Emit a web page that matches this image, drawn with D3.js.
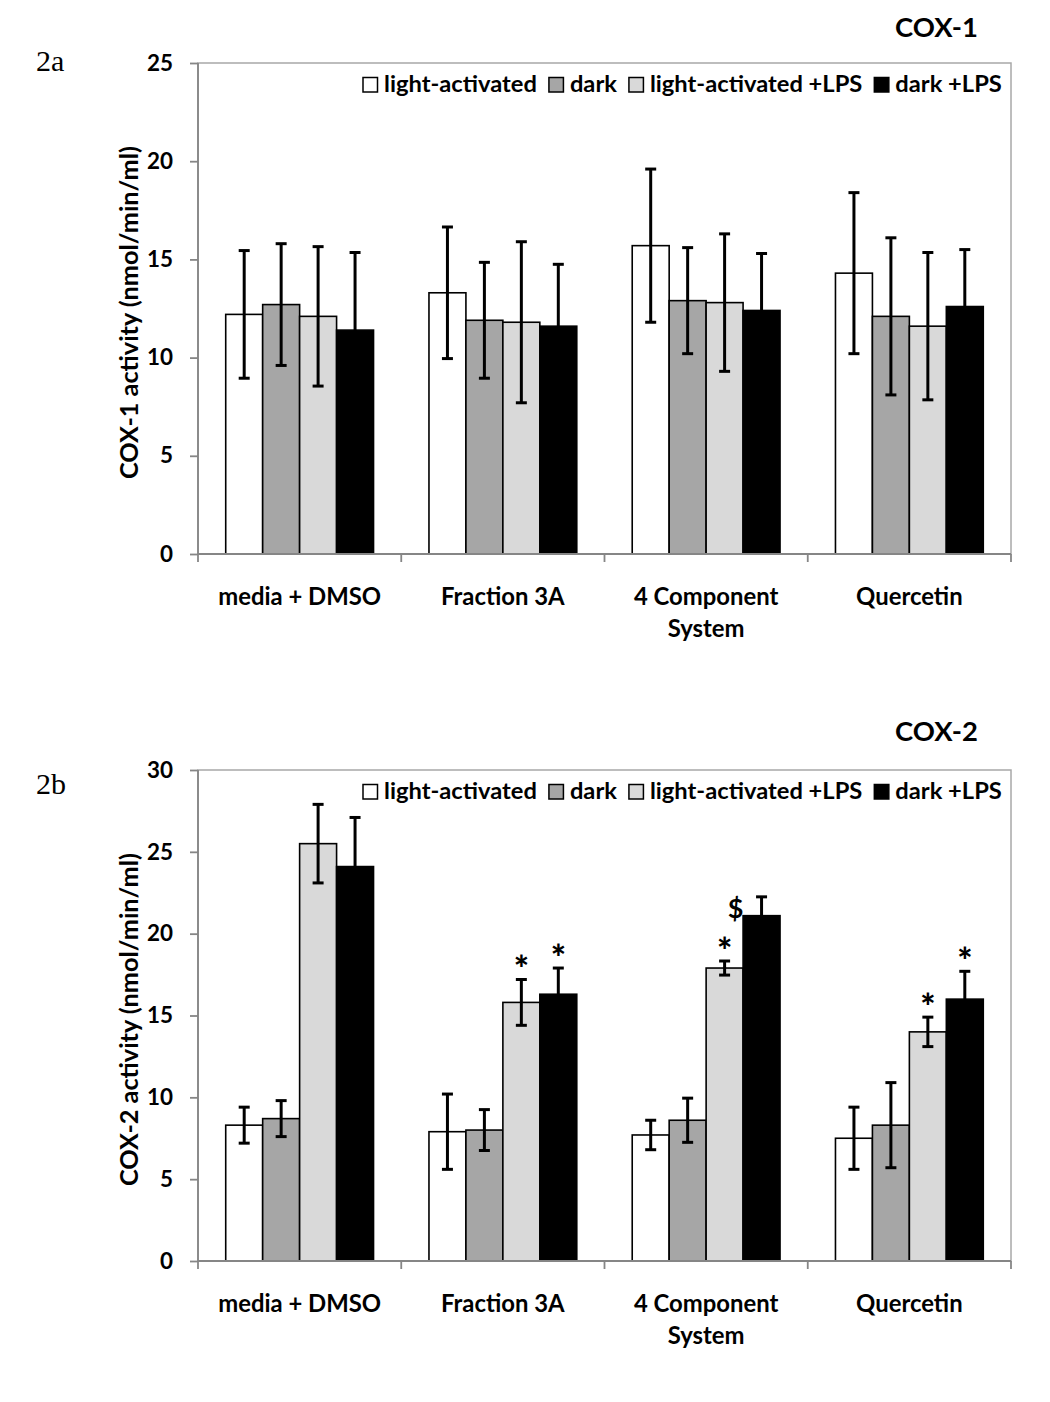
<!DOCTYPE html>
<html>
<head>
<meta charset="utf-8">
<script src="https://cdn.jsdelivr.net/npm/d3@7"></script>
<style>
  html, body { margin: 0; padding: 0; background: #fff; }
  svg { display: block; }
</style>
</head>
<body>
<svg id="chart" width="1050" height="1402"></svg>
<script>
// ---------------- DATA ----------------
const categories = ["media + DMSO", "Fraction 3A", "4 Component System", "Quercetin"];
const categoryLines = [["media + DMSO"], ["Fraction 3A"], ["4 Component", "System"], ["Quercetin"]];
const series = ["light-activated", "dark", "light-activated +LPS", "dark +LPS"];

// COX-1 activity (nmol/min/ml): rows = categories, columns = series
const cox1Values = [
  [12.2, 12.7, 12.1, 11.4],
  [13.3, 11.9, 11.8, 11.6],
  [15.7, 12.9, 12.8, 12.4],
  [14.3, 12.1, 11.6, 12.6]
];
const cox1Errors = [
  [3.25, 3.1, 3.55, 3.95],
  [3.35, 2.95, 4.1, 3.15],
  [3.9, 2.7, 3.5, 2.9],
  [4.1, 4.0, 3.75, 2.9]
];
const cox1Ticks = [0, 5, 10, 15, 20, 25];

// COX-2 activity (nmol/min/ml)
const cox2Values = [
  [8.3, 8.7, 25.5, 24.1],
  [7.9, 8.0, 15.8, 16.3],
  [7.7, 8.6, 17.9, 21.1],
  [7.5, 8.3, 14.0, 16.0]
];
const cox2Errors = [
  [1.1, 1.1, 2.4, 3.0],
  [2.3, 1.25, 1.4, 1.6],
  [0.9, 1.35, 0.43, 1.15],
  [1.9, 2.6, 0.9, 1.7]
];
const cox2Ticks = [0, 5, 10, 15, 20, 25, 30];
const cox2Marks = [
  { group: 1, series: 2, label: "*" },
  { group: 1, series: 3, label: "*" },
  { group: 2, series: 2, label: "*" },
  { group: 2, series: 3, label: "$" },
  { group: 3, series: 2, label: "*" },
  { group: 3, series: 3, label: "*" }
];

// ---------------- STYLE / LAYOUT ----------------
const colors = ["#ffffff", "#a6a6a6", "#d9d9d9", "#000000"];
const FONT = "Lato, 'Open Sans', 'Liberation Sans', sans-serif";
const plotLeft = 198, plotRight = 1011;

const svg = d3.select("#chart");

function fitSize(str, target, family, weight) {
  const t = svg.append("text").attr("font-family", family).attr("font-weight", weight)
    .attr("font-size", 100).text(str);
  const w = t.node().getComputedTextLength();
  t.remove();
  return 100 * target / w;
}
const legendFS = fitSize("light-activated", 153, FONT, 700);
const catFS = fitSize("media + DMSO", 163, FONT, 700);
const tickFS = fitSize("20", 26, FONT, 700);
const yTitleFS = fitSize("COX-1 activity (nmol/min/ml)", 333, FONT, 700);
const titleFS = fitSize("COX-1", 83, FONT, 700);

const panels = [
  { tag: "2a", tagY: 71, title: "COX-1", titleY: 37, yTitle: "COX-1 activity (nmol/min/ml)",
    values: cox1Values, errors: cox1Errors, ticks: cox1Ticks, marks: [], top: 63, bottom: 554 },
  { tag: "2b", tagY: 794, title: "COX-2", titleY: 741, yTitle: "COX-2 activity (nmol/min/ml)",
    values: cox2Values, errors: cox2Errors, ticks: cox2Ticks, marks: cox2Marks, top: 770, bottom: 1261 }
];

const x0 = d3.scaleBand().domain(categories).range([plotLeft, plotRight]).paddingInner(0).paddingOuter(0);
const x1 = d3.scaleBand().domain(series).range([0, x0.bandwidth()]).paddingInner(0).paddingOuter(0.75);

panels.forEach(p => {
  const g = svg.append("g");
  const y = d3.scaleLinear().domain([0, d3.max(p.ticks)]).range([p.bottom, p.top]);

  // plot area border
  g.append("rect").attr("x", plotLeft).attr("y", p.top)
    .attr("width", plotRight - plotLeft).attr("height", p.bottom - p.top)
    .attr("fill", "none").attr("stroke", "#a8a8a8").attr("stroke-width", 1.5);

  // bars
  categories.forEach((c, i) => {
    series.forEach((s, j) => {
      const v = p.values[i][j];
      g.append("rect")
        .attr("x", x0(c) + x1(s)).attr("y", y(v))
        .attr("width", x1.bandwidth()).attr("height", y(0) - y(v))
        .attr("fill", colors[j]).attr("stroke", "#000").attr("stroke-width", 1.6);
    });
  });

  // error bars
  categories.forEach((c, i) => {
    series.forEach((s, j) => {
      const v = p.values[i][j], e = p.errors[i][j];
      const cx = x0(c) + x1(s) + x1.bandwidth() / 2;
      const eg = g.append("g").attr("stroke", "#000").attr("stroke-width", 3);
      eg.append("line").attr("x1", cx).attr("x2", cx).attr("y1", y(v - e)).attr("y2", y(v + e));
      eg.append("line").attr("x1", cx - 5.5).attr("x2", cx + 5.5).attr("y1", y(v + e)).attr("y2", y(v + e));
      eg.append("line").attr("x1", cx - 5.5).attr("x2", cx + 5.5).attr("y1", y(v - e)).attr("y2", y(v - e));
    });
  });

  // significance marks
  p.marks.forEach(m => {
    const c = categories[m.group], s = series[m.series];
    const v = p.values[m.group][m.series], e = p.errors[m.group][m.series];
    const cx = x0(c) + x1(s) + x1.bandwidth() / 2;
    if (m.label === "*") {
      g.append("text").attr("x", cx).attr("y", y(v + e) + 3)
        .attr("text-anchor", "middle").attr("font-family", FONT).attr("font-weight", 900)
        .attr("font-size", 36).text(m.label);
    } else {
      g.append("text").attr("x", cx - 26).attr("y", y(v) + 2)
        .attr("text-anchor", "middle").attr("font-family", FONT).attr("font-weight", 700)
        .attr("font-size", 27).text(m.label);
    }
  });

  // axes lines
  g.append("line").attr("x1", plotLeft).attr("x2", plotLeft).attr("y1", p.top).attr("y2", p.bottom)
    .attr("stroke", "#868686").attr("stroke-width", 1.8);
  g.append("line").attr("x1", plotLeft).attr("x2", plotRight).attr("y1", p.bottom).attr("y2", p.bottom)
    .attr("stroke", "#868686").attr("stroke-width", 1.8);

  // y ticks
  const yAxis = g.append("g").attr("transform", `translate(${plotLeft},0)`)
    .call(d3.axisLeft(y).tickValues(p.ticks).tickSize(8).tickPadding(17).tickFormat(d3.format("d")));
  yAxis.select(".domain").remove();
  yAxis.selectAll(".tick line").attr("stroke", "#868686").attr("stroke-width", 1.8);
  yAxis.selectAll(".tick text").attr("font-family", FONT).attr("font-weight", 700)
    .attr("font-size", tickFS).attr("fill", "#000");

  // x ticks at category boundaries
  const bounds = categories.map(c => x0(c)).concat([x0.range()[1]]);
  g.selectAll(".xtick").data(bounds).enter().append("line")
    .attr("x1", d => d).attr("x2", d => d).attr("y1", p.bottom).attr("y2", p.bottom + 8)
    .attr("stroke", "#868686").attr("stroke-width", 1.8);

  // category labels
  categories.forEach((c, i) => {
    const t = g.append("text").attr("x", x0(c) + x0.bandwidth() / 2).attr("y", p.bottom + 51)
      .attr("text-anchor", "middle").attr("font-family", FONT).attr("font-weight", 700)
      .attr("font-size", catFS).attr("fill", "#000");
    categoryLines[i].forEach((ln, k) => {
      t.append("tspan").attr("x", x0(c) + x0.bandwidth() / 2).attr("dy", k === 0 ? 0 : 32).text(ln);
    });
  });

  // y axis title
  g.append("text").attr("transform", `translate(138,${(p.top + p.bottom) / 2 + 4}) rotate(-90)`)
    .attr("text-anchor", "middle").attr("font-family", FONT).attr("font-weight", 700)
    .attr("font-size", yTitleFS).attr("fill", "#000").text(p.yTitle);

  // panel title
  g.append("text").attr("x", 978).attr("y", p.titleY).attr("text-anchor", "end")
    .attr("font-family", FONT).attr("font-weight", 700).attr("font-size", titleFS)
    .attr("fill", "#000").text(p.title);

  // panel tag
  g.append("text").attr("x", 36).attr("y", p.tagY)
    .attr("font-family", "'Liberation Serif', 'DejaVu Serif', serif").attr("font-size", 30)
    .attr("fill", "#000").text(p.tag);

  // legend
  const base = p.top + 29;
  let lx = 363;
  series.forEach((s, j) => {
    g.append("rect").attr("x", lx).attr("y", base - 14.5).attr("width", 14.5).attr("height", 14.5)
      .attr("fill", colors[j]).attr("stroke", "#000").attr("stroke-width", 1.5);
    const t = g.append("text").attr("x", lx + 21).attr("y", base)
      .attr("font-family", FONT).attr("font-weight", 700).attr("font-size", legendFS)
      .attr("fill", "#000").text(s);
    lx = lx + 21 + t.node().getComputedTextLength() + 12;
  });
});
</script>
</body>
</html>
